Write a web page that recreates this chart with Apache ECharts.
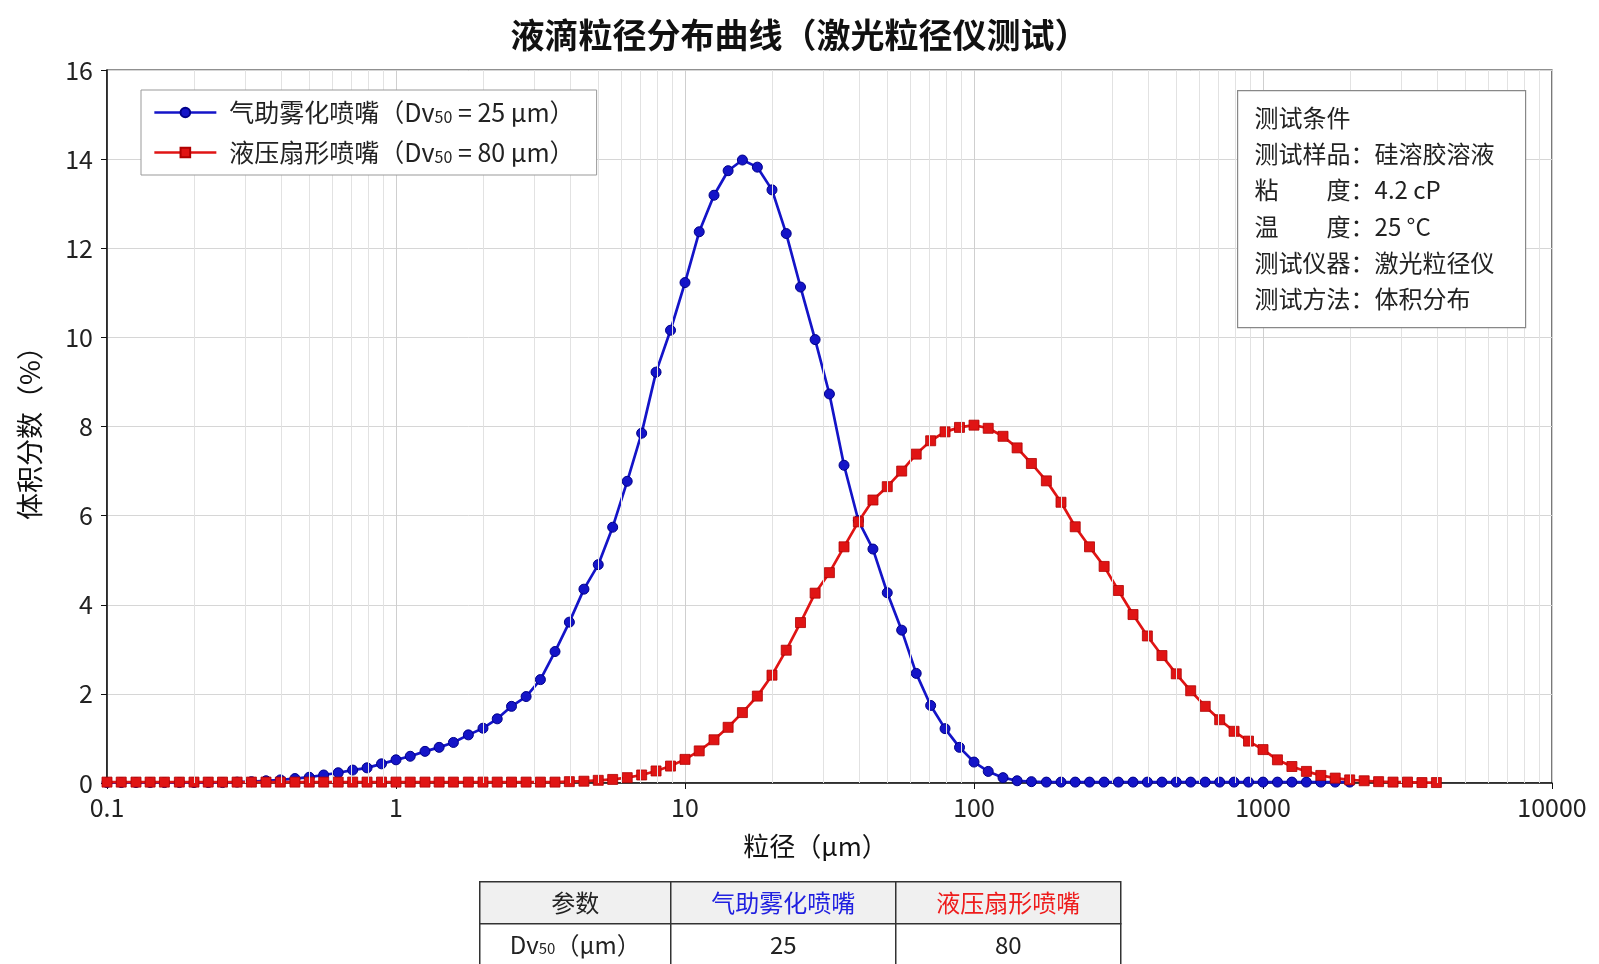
<!DOCTYPE html>
<html>
<head>
<meta charset="utf-8">
<title>液滴粒径分布曲线</title>
<script src="https://cdn.jsdelivr.net/npm/echarts@6.0.0/dist/echarts.min.js"></script>
<style>
  html, body { margin: 0; padding: 0; background: #fff; }
  #main { width: 1599px; height: 964px; }
</style>
</head>
<body>
<div id="main"></div>
<script>
// 粒径分档 (μm)，激光粒径仪每十倍程 20 档
const sizes = [
  0.1, 0.112, 0.126, 0.141, 0.158, 0.178, 0.2, 0.224, 0.251, 0.282,
  0.316, 0.355, 0.398, 0.447, 0.501, 0.562, 0.631, 0.708, 0.794, 0.891,
  1, 1.12, 1.26, 1.41, 1.58, 1.78, 2, 2.24, 2.51, 2.82,
  3.16, 3.55, 3.98, 4.47, 5.01, 5.62, 6.31, 7.08, 7.94, 8.91,
  10, 11.2, 12.6, 14.1, 15.8, 17.8, 20, 22.4, 25.1, 28.2,
  31.6, 35.5, 39.8, 44.7, 50.1, 56.2, 63.1, 70.8, 79.4, 89.1,
  100, 112, 126, 141, 158, 178, 200, 224, 251, 282,
  316, 355, 398, 447, 501, 562, 631, 708, 794, 891,
  1000, 1122, 1259, 1413, 1585, 1778, 1995, 2239, 2512, 2818,
  3162, 3548, 3981
]

// 气助雾化喷嘴 体积分数 (%)
const airAssisted = [
  0.01, 0.01, 0.01, 0.01, 0.01, 0.01, 0.01, 0.01, 0.01, 0.02,
  0.03, 0.05, 0.07, 0.10, 0.13, 0.18, 0.23, 0.29, 0.34, 0.43,
  0.52, 0.60, 0.71, 0.80, 0.91, 1.08, 1.23, 1.44, 1.72, 1.94,
  2.32, 2.95, 3.61, 4.35, 4.90, 5.74, 6.77, 7.85, 9.22, 10.16,
  11.23, 12.37, 13.19, 13.74, 13.98, 13.82, 13.31, 12.33, 11.13, 9.95,
  8.73, 7.13, 5.89, 5.25, 4.27, 3.43, 2.46, 1.74, 1.22, 0.80,
  0.47, 0.26, 0.12, 0.05, 0.03, 0.02, 0.02, 0.02, 0.02, 0.02,
  0.02, 0.02, 0.02, 0.02, 0.02, 0.02, 0.02, 0.02, 0.02, 0.02,
  0.02, 0.02, 0.02, 0.02, 0.02, 0.02, 0.02
]

// 液压扇形喷嘴 体积分数 (%)
const hydraulicFan = [
  0.02, 0.02, 0.02, 0.02, 0.02, 0.02, 0.02, 0.02, 0.02, 0.02,
  0.02, 0.02, 0.02, 0.02, 0.02, 0.02, 0.02, 0.02, 0.02, 0.02,
  0.02, 0.02, 0.02, 0.02, 0.02, 0.02, 0.02, 0.02, 0.02, 0.02,
  0.02, 0.02, 0.03, 0.04, 0.06, 0.08, 0.12, 0.18, 0.27, 0.38,
  0.53, 0.72, 0.97, 1.25, 1.58, 1.95, 2.42, 2.98, 3.60, 4.26,
  4.72, 5.30, 5.86, 6.35, 6.65, 7.00, 7.38, 7.68, 7.88, 7.98,
  8.03, 7.96, 7.78, 7.52, 7.17, 6.78, 6.30, 5.75, 5.30, 4.86,
  4.32, 3.78, 3.30, 2.86, 2.45, 2.07, 1.72, 1.42, 1.16, 0.94,
  0.75, 0.52, 0.37, 0.26, 0.17, 0.11, 0.07, 0.05, 0.03, 0.02,
  0.02, 0.01, 0.01
]

const seriesNames = ['气助雾化喷嘴（Dv50 = 25 μm）', '液压扇形喷嘴（Dv50 = 80 μm）']
const nozzleNames = ['气助雾化喷嘴', '液压扇形喷嘴']
const dv50 = ['25', '80']

const infoLines = [
  '测试条件',
  '测试样品：硅溶胶溶液',
  '粘　　度：4.2 cP',
  '温　　度：25 °C',
  '测试仪器：激光粒径仪',
  '测试方法：体积分布'
]

const FONT = '"Noto Sans CJK SC", "Noto Sans", sans-serif'
const BLUE = '#1414c8'
const RED = '#e01414'

// 对数轴的次网格线 2~9
const minorGrid = []
;[0.1, 1, 10, 100, 1000].forEach(d => {
  for (let m = 2; m <= 9; m++) minorGrid.push(+(d * m).toPrecision(3))
})

const myCharts = echarts.init(document.getElementById('main'))

// 右上角测试条件框
const infoGraphic = {
  type: 'group',
  left: 1237,
  top: 90,
  z: 100,
  children: [
    {
      type: 'rect',
      z: 100,
      shape: {x: 0, y: 0, width: 288, height: 237},
      style: {fill: '#fff', stroke: '#888', lineWidth: 1.2}
    },
    ...infoLines.map((t, i) => ({
      type: 'text',
      z: 101,
      style: {
        x: 17, y: 27 + i * 36.3, text: t,
        font: '24px ' + FONT, fill: '#222', verticalAlign: 'middle'
      }
    }))
  ]
}

// 底部参数表
const colX = [0, 191, 416, 641]
const rowY = [0, 42, 84]
const tableCells = [
  [{text: '参数', fill: '#222'}, {text: nozzleNames[0], fill: '#2020e0'}, {text: nozzleNames[1], fill: '#ee1c1c'}],
  [{text: 'Dv{sub|50}（μm）', fill: '#222'}, {text: dv50[0], fill: '#222'}, {text: dv50[1], fill: '#222'}]
]
const tableChildren = []
tableCells.forEach((row, r) => {
  row.forEach((cell, c) => {
    tableChildren.push({
      type: 'rect',
      shape: {x: colX[c], y: rowY[r], width: colX[c + 1] - colX[c], height: rowY[r + 1] - rowY[r]},
      style: {fill: r === 0 ? '#f0f0f0' : '#fff', stroke: '#333', lineWidth: 1.5}
    })
    tableChildren.push({
      type: 'text',
      z: 10,
      style: {
        x: (colX[c] + colX[c + 1]) / 2, y: (rowY[r] + rowY[r + 1]) / 2,
        text: cell.text, font: '24px ' + FONT, fill: cell.fill,
        align: 'center', verticalAlign: 'middle',
        rich: {sub: {fontSize: 15, fontFamily: FONT, fill: cell.fill, padding: [8, 0, 0, 0]}}
      }
    })
  })
})

const option = {
  animation: false,
  backgroundColor: '#fff',
  textStyle: {fontFamily: FONT},
  title: {
    text: '液滴粒径分布曲线（激光粒径仪测试）',
    left: 'center',
    top: 13,
    textStyle: {fontSize: 34, fontWeight: 'bold', color: '#111', fontFamily: FONT}
  },
  legend: {
    orient: 'vertical',
    left: 141,
    top: 90,
    z: 100,
    padding: [10, 22, 10, 12],
    backgroundColor: '#fff',
    borderColor: '#999',
    borderWidth: 1,
    itemWidth: 62,
    itemHeight: 12,
    itemGap: 15,
    data: seriesNames,
    lineStyle: {width: 2.7},
    formatter: name => name.replace('Dv50', 'Dv{sub|50}'),
    textStyle: {
      fontSize: 25,
      color: '#222',
      fontFamily: FONT,
      padding: [0, 0, 0, 8],
      rich: {sub: {fontSize: 16, fontFamily: FONT, color: '#222', padding: [8, 0, 0, 0]}}
    }
  },
  grid: {
    left: 107,
    right: 47,
    top: 70,
    bottom: 181,
    show: true,
    borderColor: '#222',
    borderWidth: 1.2,
    backgroundColor: 'transparent'
  },
  xAxis: {
    type: 'log',
    logBase: 10,
    min: 0.1,
    max: 10000,
    name: '粒径（μm）',
    nameLocation: 'middle',
    nameGap: 50,
    nameTextStyle: {fontSize: 26, color: '#111', fontFamily: FONT, padding: [0, 28, 0, 0]},
    axisLine: {lineStyle: {color: '#111', width: 1.5}},
    axisTick: {length: 6, lineStyle: {color: '#111'}},
    axisLabel: {
      fontSize: 25, color: '#222', margin: 12,
      formatter: v => String(+(+v).toPrecision(4))
    },
    splitLine: {show: true, lineStyle: {color: '#cfcfcf', width: 1}}
  },
  yAxis: {
    type: 'value',
    min: 0,
    max: 16,
    interval: 2,
    name: '体积分数（%）',
    nameLocation: 'middle',
    nameGap: 64,
    nameTextStyle: {fontSize: 27, color: '#111', fontFamily: FONT},
    axisLine: {show: true, lineStyle: {color: '#111', width: 1.5}},
    axisTick: {show: true, length: 6, lineStyle: {color: '#111'}},
    axisLabel: {fontSize: 25, color: '#222', margin: 14},
    splitLine: {show: true, lineStyle: {color: '#d6d6d6', width: 1}}
  },
  graphic: [
    infoGraphic,
    {type: 'group', left: 479, top: 881, children: tableChildren}
  ],
  series: [
    {
      name: 'minorGrid',
      type: 'line',
      data: [],
      z: 1,
      silent: true,
      markLine: {
        silent: true,
        symbol: 'none',
        label: {show: false},
        lineStyle: {color: '#e2e2e2', width: 1, type: 'solid'},
        data: minorGrid.map(v => ({xAxis: v}))
      }
    },
    {
      name: seriesNames[0],
      type: 'line',
      z: 3,
      symbol: 'circle',
      symbolSize: 10,
      lineStyle: {color: BLUE, width: 2.7},
      itemStyle: {color: BLUE, borderColor: '#00008a', borderWidth: 1},
      data: airAssisted.map((v, i) => [sizes[i], v])
    },
    {
      name: seriesNames[1],
      type: 'line',
      z: 4,
      symbol: 'rect',
      symbolSize: 10,
      lineStyle: {color: RED, width: 2.7},
      itemStyle: {color: RED, borderColor: '#b00000', borderWidth: 0.8},
      data: hydraulicFan.map((v, i) => [sizes[i], v])
    }
  ]
}

myCharts.setOption(option)
</script>
</body>
</html>
